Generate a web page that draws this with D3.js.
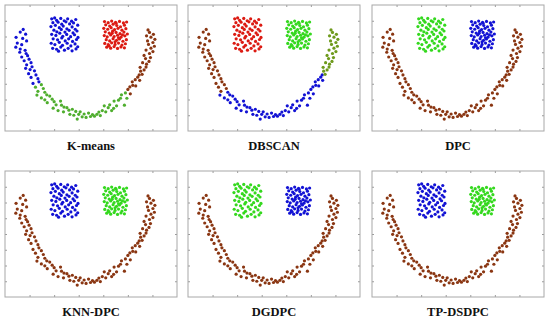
<!DOCTYPE html>
<html>
<head>
<meta charset="utf-8">
<script src="https://cdn.jsdelivr.net/npm/d3@7"></script>
<style>
  body { margin: 0; background: #fff; }
  svg { display: block; }
</style>
</head>
<body>
<script>
var W = 550, H = 321;

// method names, one per panel
var methods = ["K-means", "DBSCAN", "DPC", "KNN-DPC", "DGDPC", "TP-DSDPC"];

// left square cluster
var squareA = [[1.90,7.12],[2.02,7.18],[2.10,7.03],[2.27,7.15],[2.41,7.00],[2.55,7.12],[2.71,6.97],[2.88,7.08],
  [1.95,6.88],[2.16,6.91],[2.31,6.78],[2.48,6.93],[2.63,6.80],[2.79,6.86],[2.96,6.72],[1.87,6.63],
  [2.05,6.71],[2.21,6.56],[2.37,6.66],[2.52,6.49],[2.73,6.61],[2.86,6.46],[1.99,6.40],[2.11,6.30],
  [2.29,6.45],[2.44,6.28],[2.61,6.39],[2.77,6.23],[2.93,6.35],[1.90,6.14],[2.07,6.07],[2.23,6.21],
  [2.35,6.01],[2.51,6.13],[2.67,5.99],[2.83,6.11],[2.97,5.94],[1.96,5.85],[2.14,5.79],[2.31,5.91],
  [2.45,5.72],[2.59,5.85],[2.75,5.69],[2.91,5.81],[1.88,5.57],[2.03,5.49],[2.21,5.63],[2.34,5.44],
  [2.53,5.57],[2.68,5.40],[2.85,5.53],[2.96,5.35],[1.94,5.25],[2.10,5.19],[2.27,5.33],[2.42,5.13],
  [2.57,5.25],[2.73,5.09],[2.89,5.21],[2.18,5.07]];

// right square cluster
var squareB = [[4.05,6.95],[4.20,6.88],[4.34,6.98],[4.50,6.90],[4.66,6.96],[4.82,6.86],[4.95,6.92],[4.10,6.74],
  [4.26,6.66],[4.40,6.78],[4.55,6.70],[4.70,6.62],[4.86,6.72],[4.02,6.52],[4.18,6.46],[4.32,6.56],
  [4.46,6.44],[4.60,6.52],[4.76,6.40],[4.92,6.50],[4.08,6.30],[4.24,6.22],[4.38,6.34],[4.52,6.26],
  [4.68,6.18],[4.84,6.28],[4.98,6.16],[4.04,6.06],[4.16,5.98],[4.30,6.10],[4.44,6.00],[4.58,6.08],
  [4.72,5.96],[4.88,6.04],[4.12,5.80],[4.26,5.72],[4.40,5.86],[4.54,5.76],[4.66,5.84],[4.80,5.70],
  [4.94,5.80],[4.06,5.56],[4.20,5.48],[4.34,5.60],[4.48,5.50],[4.62,5.58],[4.76,5.46],[4.90,5.54],
  [4.14,5.32],[4.30,5.26],[4.44,5.36],[4.58,5.24],[4.72,5.34],[4.86,5.28],[4.52,6.84],[4.36,6.20],
  [4.62,5.92],[4.48,5.66],[4.24,5.40],[4.78,6.10]];

// the smile, ordered from the top left round to the top right
var arc = [[0.74,6.45],[0.62,6.28],[0.84,6.15],[0.45,5.95],[0.72,5.88],[0.88,5.72],[0.50,5.58],[0.68,5.48],
  [0.44,5.32],[0.62,5.20],[0.82,5.12],[0.60,5.00],[0.86,4.92],[0.92,4.78],[0.68,4.70],[0.98,4.56],
  [0.78,4.46],[1.06,4.34],[0.88,4.20],[1.10,4.08],[0.84,3.98],[1.02,3.90],
  [1.20,3.82],[0.96,3.64],[1.26,3.56],[1.06,3.40],[1.34,3.32],[1.38,3.12],[1.14,3.02],[1.48,2.94],
  [1.24,2.78],[1.56,2.70],[1.34,2.52],[1.62,2.46],[1.30,2.28],[1.70,2.30],[1.48,2.10],[1.82,2.22],
  [1.62,1.98],[1.92,2.02],[1.72,1.80],[2.00,1.86],
  [2.08,1.66],[2.26,1.90],[1.96,1.45],[2.30,1.64],[2.40,1.52],[2.16,1.30],[2.52,1.48],[2.38,1.22],
  [2.60,1.32],[2.64,1.06],[2.74,1.38],[2.80,1.00],[2.88,1.24],[2.94,0.76],[3.00,1.06],[3.06,1.22],
  [3.14,0.90],[3.22,1.08],[3.30,0.86],[3.40,1.14],[3.48,0.92],[3.56,1.04],[3.64,0.94],[3.74,1.06],
  [3.82,1.20],[3.88,0.98],[3.96,1.30],[4.04,1.60],[4.10,1.22],[4.20,1.48],[4.26,1.66],[4.34,1.30],
  [4.42,1.44],[4.44,1.90],[4.54,1.60],[4.62,1.96],[4.70,2.08],[4.74,2.30],[4.86,1.64],[4.90,2.42],
  [4.96,2.08],[5.00,2.64],[5.10,2.36],[5.08,2.80],[5.20,2.90],[5.18,3.12],[5.32,2.86],[5.30,3.26],
  [5.40,3.42],[5.48,3.22],[5.46,3.56],[5.58,3.60],[5.52,3.80],[5.66,3.88],[5.50,4.04],[5.74,4.06],
  [5.76,4.24],[5.60,4.34],[5.86,4.42],[5.72,4.60],[5.92,4.66],[5.66,4.80],[5.88,4.92],[6.02,5.04],
  [5.74,5.14],[5.94,5.26],[6.08,5.38],[5.84,5.50],[6.02,5.62],[5.80,5.72],[6.10,5.82],[5.94,5.96],
  [5.76,6.04],[6.04,6.14],[5.88,6.26],[5.82,6.42]];

// cluster labels found by each method
var squareALabel = ["blue", "red", "green", "blue", "green", "blue"];
var squareBLabel = ["red", "green", "blue", "green", "blue", "green"];
var arcCuts = [[29, 83], [33, 93], [], [], [], []];
var arcLabels = [["blue", "midgreen", "brown"], ["brown", "blue", "olive"],
  ["brown"], ["brown"], ["brown"], ["brown"]];

var xTicks = [1, 2, 3, 4, 5, 6];
var yTicks = [1, 2, 3, 4, 5, 6, 7];

var colors = {
  blue: "#1212d4",
  red: "#dc1a12",
  green: "#34d81e",
  midgreen: "#4fae2e",
  brown: "#8a3612",
  olive: "#6e9a1c"
};

var colX = [5, 188, 372],
    rowY = [5, 171],
    pw = 172,
    ph = 126;

var svg = d3.select("body").append("svg")
    .attr("width", W)
    .attr("height", H);

methods.forEach(function(name, i) {
  var g = svg.append("g")
      .attr("transform", "translate(" + colX[i % 3] + "," + rowY[Math.floor(i / 3)] + ")");

  var x = d3.scaleLinear().domain([0, 7]).range([0, pw]);
  var y = d3.scaleLinear().domain([0, 8]).range([ph, 0]);

  // inward ticks on all four sides
  [[d3.axisBottom(x).tickValues(xTicks), "translate(0," + ph + ")"],
   [d3.axisTop(x).tickValues(xTicks), "translate(0,0)"],
   [d3.axisLeft(y).tickValues(yTicks), "translate(0,0)"],
   [d3.axisRight(y).tickValues(yTicks), "translate(" + pw + ",0)"]].forEach(function(a) {
    var ax = g.append("g")
        .attr("transform", a[1])
        .call(a[0].tickSize(-2).tickFormat(""));
    ax.select(".domain").remove();
    ax.selectAll("line").attr("stroke", "#9a9a9a");
  });

  g.append("rect")
      .attr("width", pw)
      .attr("height", ph)
      .attr("fill", "none")
      .attr("stroke", "#a8a8a8")
      .attr("stroke-width", 1);

  var cuts = arcCuts[i];
  function arcColor(d, j) {
    var k = 0;
    while (k < cuts.length && j >= cuts[k]) k++;
    return colors[arcLabels[i][k]];
  }

  g.selectAll(".arc")
      .data(arc)
      .enter().append("circle")
      .attr("class", "arc")
      .attr("cx", function(d) { return x(d[0]); })
      .attr("cy", function(d) { return y(d[1]); })
      .attr("r", 1.6)
      .attr("fill", arcColor);

  g.selectAll(".sqa")
      .data(squareA)
      .enter().append("circle")
      .attr("class", "sqa")
      .attr("cx", function(d) { return x(d[0]); })
      .attr("cy", function(d) { return y(d[1]); })
      .attr("r", 1.6)
      .attr("fill", colors[squareALabel[i]]);

  g.selectAll(".sqb")
      .data(squareB)
      .enter().append("circle")
      .attr("class", "sqb")
      .attr("cx", function(d) { return x(d[0]); })
      .attr("cy", function(d) { return y(d[1]); })
      .attr("r", 1.6)
      .attr("fill", colors[squareBLabel[i]]);

  g.append("text")
      .attr("x", pw / 2)
      .attr("y", ph + 18.5)
      .attr("text-anchor", "middle")
      .attr("font-family", "'Liberation Serif', 'DejaVu Serif', serif")
      .attr("font-weight", "bold")
      .attr("font-size", 12.5)
      .attr("fill", "#111")
      .text(name);
});
</script>
</body>
</html>
